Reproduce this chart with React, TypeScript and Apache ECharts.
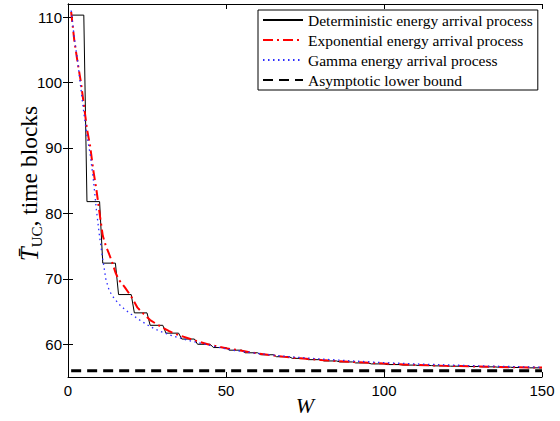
import React, { useEffect, useRef } from 'react';
import * as echarts from 'echarts';

// Deterministic process: plateau value for each block of 5 consecutive W values (W = 1..150)
const detBlockSize = 5;
const detLevels = [
  110.3, 81.8, 72.4, 67.6, 64.8, 62.9, 61.7, 60.8, 60.0, 59.5,
  59.1, 58.7, 58.4, 58.1, 57.85, 57.65, 57.45, 57.3, 57.15, 57.0,
  56.9, 56.82, 56.75, 56.7, 56.65, 56.6, 56.55, 56.5, 56.45, 56.4,
];

// Exponential energy arrival process
const expW = [1, 2, 3, 4, 5, 6, 7, 8, 9, 10, 11, 12, 13, 14, 15, 16, 18, 20, 22, 24, 26, 29, 32, 35, 40, 45, 50, 55, 60, 70, 80, 90, 100, 110, 120, 130, 140, 150];
const expT = [110.8, 106.4, 103.2, 100.3, 96.7, 92.9, 90.3, 86.6, 83.6, 80.0, 76.6, 75.0, 73.8, 72.5, 71.0, 69.9, 68.7, 67.3, 65.6, 64.6, 63.7, 62.8, 62.0, 61.4, 60.6, 59.9, 59.4, 59.0, 58.6, 58.0, 57.6, 57.3, 57.05, 56.85, 56.7, 56.6, 56.5, 56.45];

// Gamma energy arrival process
const gamW = [1, 2, 3, 4, 5, 6, 7, 8, 9, 10, 11, 12, 13, 14, 16, 18, 20, 23, 26, 29, 33, 38, 42, 47, 52, 60, 70, 80, 90, 100, 110, 120, 130, 140, 150];
const gamT = [111.0, 106.8, 103.5, 99.4, 95.4, 91.9, 89.1, 85.3, 80.5, 76.4, 73.0, 69.9, 68.3, 67.4, 66.2, 65.3, 64.6, 63.6, 62.7, 62.0, 61.3, 60.6, 60.15, 59.6, 59.1, 58.6, 58.1, 57.75, 57.45, 57.2, 57.0, 56.85, 56.7, 56.6, 56.5];

// Asymptotic lower bound
const boundW = [1, 150];
const boundT = 55.95;

const xTicks = [0, 50, 100, 150];
const yTicks = [60, 70, 80, 90, 100, 110];
const xRange = [0, 150];
const yRange = [55, 112];

const seriesNames = [
  'Deterministic energy arrival process',
  'Exponential energy arrival process',
  'Gamma energy arrival process',
  'Asymptotic lower bound',
];

export default function App() {
  const ref = useRef<HTMLDivElement>(null);

  useEffect(() => {
    const chart = echarts.init(ref.current as HTMLDivElement, null, { renderer: 'svg' });

    const detData: number[][] = [];
    detLevels.forEach((v, i) => {
      detData.push([1 + i * detBlockSize, v]);
      detData.push([(i + 1) * detBlockSize, v]);
    });
    const expData = expW.map((w, i) => [w, expT[i]]);
    const gamData = gamW.map((w, i) => [w, gamT[i]]);
    const boundData = boundW.map((w) => [w, boundT]);

    const axisLine = { show: true, lineStyle: { color: '#000', width: 1 } };
    const tickLabel = { color: '#000', fontSize: 15, fontFamily: 'Liberation Sans' };

    chart.setOption({
      animation: false,
      backgroundColor: '#fff',
      grid: { left: 68, right: 18, top: 4, bottom: 44, containLabel: false, outerBoundsMode: 'none' },
      legend: {
        orient: 'vertical',
        left: 258,
        top: 10,
        itemWidth: 40,
        itemHeight: 14,
        itemGap: 4,
        padding: [2, 5, 2, 4],
        borderColor: '#000',
        borderWidth: 1,
        backgroundColor: '#fff',
        itemStyle: { opacity: 0 },
        textStyle: { fontFamily: 'Liberation Serif', fontSize: 15.5, color: '#000' },
        data: seriesNames,
      },
      xAxis: [
        {
          type: 'value',
          min: xRange[0],
          max: xRange[1],
          interval: 50,
          position: 'bottom',
          axisLine,
          axisTick: { inside: true, length: 5, lineStyle: { color: '#000' } },
          axisLabel: { ...tickLabel, margin: 6, customValues: xTicks },
          splitLine: { show: false },
          name: 'W',
          nameLocation: 'middle',
          nameGap: 17,
          nameMoveOverlap: false,
          nameTextStyle: { fontFamily: 'Liberation Serif', fontStyle: 'italic', fontSize: 22, color: '#000' },
        },
        {
          type: 'value',
          min: xRange[0],
          max: xRange[1],
          interval: 50,
          position: 'top',
          axisLine,
          axisTick: { inside: true, length: 5, lineStyle: { color: '#000' } },
          axisLabel: { show: false },
          splitLine: { show: false },
        },
      ],
      yAxis: [
        {
          type: 'value',
          min: yRange[0],
          max: yRange[1],
          position: 'left',
          axisLine,
          axisTick: { inside: true, length: 5, customValues: yTicks, lineStyle: { color: '#000' } },
          axisLabel: { ...tickLabel, margin: 6, customValues: yTicks },
          splitLine: { show: false },
          name: '{t|T\u0304}{s|UC}{n|, time blocks}',
          nameLocation: 'middle',
          nameRotate: 90,
          nameGap: 24,
          nameMoveOverlap: false,
          nameTextStyle: {
            padding: [0, 0, 0, 14],
            rich: {
              t: { fontFamily: 'Liberation Serif', fontStyle: 'italic', fontSize: 25, color: '#000', lineHeight: 30, verticalAlign: 'middle' },
              s: { fontFamily: 'Liberation Serif', fontSize: 15, color: '#000', lineHeight: 16, verticalAlign: 'bottom' },
              n: { fontFamily: 'Liberation Serif', fontSize: 23.5, color: '#000', lineHeight: 30, verticalAlign: 'middle' },
            },
          },
        },
        {
          type: 'value',
          min: yRange[0],
          max: yRange[1],
          position: 'right',
          axisLine,
          axisTick: { inside: true, length: 5, customValues: yTicks, lineStyle: { color: '#000' } },
          axisLabel: { show: false, customValues: yTicks },
          splitLine: { show: false },
        },
      ],
      series: [
        {
          name: seriesNames[0],
          type: 'line',
          data: detData,
          symbol: 'none',
          lineStyle: { color: '#000', width: 1 },
          itemStyle: { color: '#000' },
        },
        {
          name: seriesNames[1],
          type: 'line',
          data: expData,
          symbol: 'none',
          lineStyle: { color: '#ff0000', width: 2, type: [10, 4, 2, 4] },
          itemStyle: { color: '#ff0000' },
        },
        {
          name: seriesNames[2],
          type: 'line',
          data: gamData,
          symbol: 'none',
          lineStyle: { color: '#2b2bff', width: 1.3, type: [1.5, 3.5] },
          itemStyle: { color: '#2b2bff' },
        },
        {
          name: seriesNames[3],
          type: 'line',
          data: boundData,
          symbol: 'none',
          lineStyle: { color: '#000', width: 3, type: [10, 6] },
          itemStyle: { color: '#000' },
        },
      ],
    });

    return () => chart.dispose();
  }, []);

  return (
    <div
      ref={ref}
      style={{ position: 'fixed', left: 0, top: 0, width: 560, height: 421, background: '#fff' }}
    />
  );
}
